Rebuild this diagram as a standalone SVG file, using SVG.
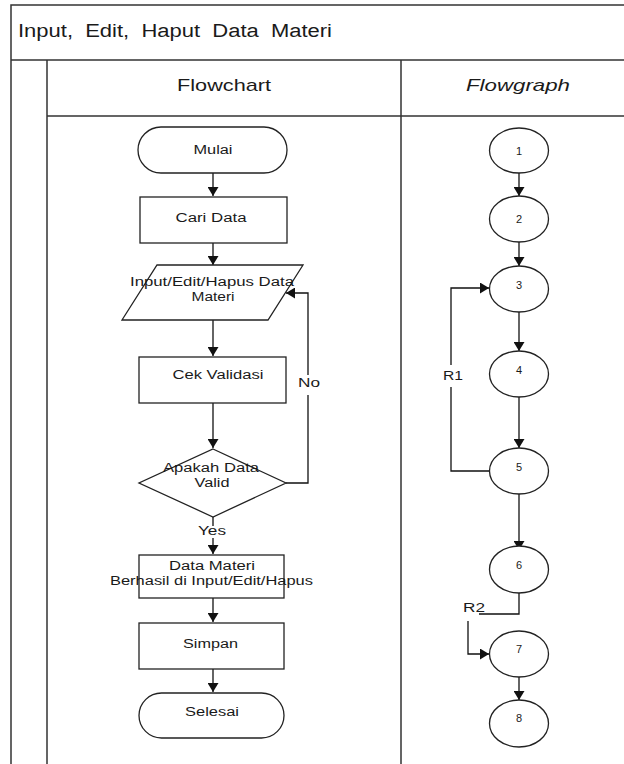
<svg xmlns="http://www.w3.org/2000/svg" width="624" height="764" viewBox="0 0 624 764">
  <style>
    text { font-family: "Liberation Sans", Arial, sans-serif; fill: #1a1a1a; }
    .frame { stroke: #333; stroke-width: 1.5; fill: none; }
    .shape { stroke: #222; stroke-width: 1.3; fill: #fff; }
    .edge { stroke: #111; stroke-width: 1.3; fill: none; }
    .lbl { font-size: 12px; text-anchor: middle; }
    .num { font-size: 11px; text-anchor: middle; }
  </style>
  <defs>
    <marker id="ah" viewBox="0 0 10 10" refX="10" refY="5" markerWidth="9" markerHeight="11" markerUnits="userSpaceOnUse" orient="auto" preserveAspectRatio="none">
      <path d="M0,0 L10,5 L0,10 Z" fill="#111"/>
    </marker>
  </defs>
  <rect width="624" height="764" fill="#fff"/>

  <!-- table frame -->
  <g id="frame">
    <path class="frame" d="M11,764 V5 H624 M11,60 H624 M47,60 V764 M47,116 H624 M401,60 V764"/>
    <text x="18" y="37" font-size="18" textLength="314" lengthAdjust="spacingAndGlyphs" xml:space="preserve">Input,  Edit,  Haput  Data  Materi</text>
    <text x="177" y="91" font-size="17" textLength="94" lengthAdjust="spacingAndGlyphs">Flowchart</text>
    <text x="466" y="91" font-size="17" font-style="italic" textLength="104" lengthAdjust="spacingAndGlyphs">Flowgraph</text>
  </g>

  <!-- connectors -->
  <g id="connectors">
    <path class="edge" d="M213,173 V196" marker-end="url(#ah)"/>
    <path class="edge" d="M213,243 V265" marker-end="url(#ah)"/>
    <path class="edge" d="M213,320 V356" marker-end="url(#ah)"/>
    <path class="edge" d="M213,403 V448" marker-end="url(#ah)"/>
    <path class="edge" d="M286,483 H308 V395 M308,375 V293 H286" marker-end="url(#ah)"/>
    <text class="lbl" x="309" y="387" textLength="22" lengthAdjust="spacingAndGlyphs">No</text>
    <path class="edge" d="M213,517 V526 M213,538 V554" marker-end="url(#ah)"/>
    <text class="lbl" x="212" y="535" textLength="28" lengthAdjust="spacingAndGlyphs">Yes</text>
    <path class="edge" d="M213,598 V622" marker-end="url(#ah)"/>
    <path class="edge" d="M213,669 V692" marker-end="url(#ah)"/>

    <path class="edge" d="M519,173 V196" marker-end="url(#ah)"/>
    <path class="edge" d="M519,242 V266" marker-end="url(#ah)"/>
    <path class="edge" d="M519,312 V351" marker-end="url(#ah)"/>
    <path class="edge" d="M519,397 V448" marker-end="url(#ah)"/>
    <path class="edge" d="M489,471 H451 V387 M451,365 V288 H489" marker-end="url(#ah)"/>
    <text class="lbl" x="453" y="380" textLength="20" lengthAdjust="spacingAndGlyphs">R1</text>
    <path class="edge" d="M519,494 V550" marker-end="url(#ah)"/>
    <path class="edge" d="M519,593 V614 H479"/>
    <text class="lbl" x="474" y="612" textLength="22" lengthAdjust="spacingAndGlyphs">R2</text>
    <path class="edge" d="M468,621 V654 H489" marker-end="url(#ah)"/>
    <path class="edge" d="M519,677 V700" marker-end="url(#ah)"/>
  </g>

  <!-- flowchart nodes -->
  <g id="mulai">
    <rect class="shape" x="138" y="127" width="149" height="46" rx="23" ry="23"/>
    <text class="lbl" x="213" y="154" textLength="39" lengthAdjust="spacingAndGlyphs">Mulai</text>
  </g>
  <g id="cari-data">
    <rect class="shape" x="140" y="197" width="147" height="46"/>
    <text class="lbl" x="211" y="222" textLength="71" lengthAdjust="spacingAndGlyphs">Cari Data</text>
  </g>
  <g id="input-data">
    <polygon class="shape" points="157,265 303,265 268,320 122,320"/>
    <text class="lbl" x="212" y="286" textLength="164" lengthAdjust="spacingAndGlyphs">Input/Edit/Hapus Data</text>
    <text class="lbl" x="213" y="301" textLength="43" lengthAdjust="spacingAndGlyphs">Materi</text>
  </g>
  <g id="cek-validasi">
    <rect class="shape" x="139" y="357" width="147" height="46"/>
    <text class="lbl" x="218" y="379" textLength="91" lengthAdjust="spacingAndGlyphs">Cek Validasi</text>
  </g>
  <g id="apakah-valid">
    <polygon class="shape" points="213,449 286,483 213,517 139,483"/>
    <text class="lbl" x="211" y="472" textLength="96" lengthAdjust="spacingAndGlyphs">Apakah Data</text>
    <text class="lbl" x="212" y="487" textLength="35" lengthAdjust="spacingAndGlyphs">Valid</text>
  </g>
  <g id="berhasil">
    <rect class="shape" x="139" y="555" width="145" height="43"/>
    <text class="lbl" x="212" y="570" textLength="86" lengthAdjust="spacingAndGlyphs">Data Materi</text>
    <text class="lbl" x="211.5" y="585" textLength="203" lengthAdjust="spacingAndGlyphs">Berhasil di Input/Edit/Hapus</text>
  </g>
  <g id="simpan">
    <rect class="shape" x="139" y="623" width="145" height="46"/>
    <text class="lbl" x="210.5" y="648" textLength="55" lengthAdjust="spacingAndGlyphs">Simpan</text>
  </g>
  <g id="selesai">
    <rect class="shape" x="139" y="693" width="145" height="45" rx="22.5" ry="22.5"/>
    <text class="lbl" x="212" y="716" textLength="54" lengthAdjust="spacingAndGlyphs">Selesai</text>
  </g>

  <!-- flowgraph nodes -->
  <g id="n1"><ellipse class="shape" cx="519" cy="150.5" rx="29.5" ry="22.5"/><text class="num" x="519" y="154.5">1</text></g>
  <g id="n2"><ellipse class="shape" cx="519" cy="219" rx="29.5" ry="23"/><text class="num" x="519" y="223">2</text></g>
  <g id="n3"><ellipse class="shape" cx="519" cy="289" rx="29.5" ry="23"/><text class="num" x="519" y="289">3</text></g>
  <g id="n4"><ellipse class="shape" cx="519" cy="374" rx="29.5" ry="23"/><text class="num" x="519" y="374">4</text></g>
  <g id="n5"><ellipse class="shape" cx="519" cy="471" rx="29.5" ry="23"/><text class="num" x="519" y="471">5</text></g>
  <g id="n6"><ellipse class="shape" cx="519" cy="569.5" rx="29.5" ry="23.5"/><text class="num" x="519" y="569">6</text></g>
  <g id="n7"><ellipse class="shape" cx="519" cy="654" rx="29.5" ry="23"/><text class="num" x="519" y="652.5">7</text></g>
  <g id="n8"><ellipse class="shape" cx="519" cy="723.5" rx="29.5" ry="23.5"/><text class="num" x="519" y="722">8</text></g>
</svg>
